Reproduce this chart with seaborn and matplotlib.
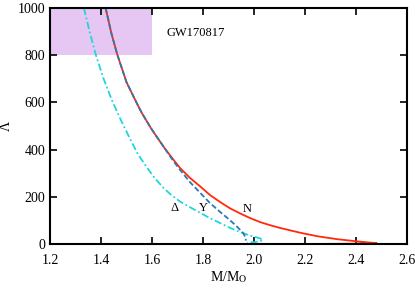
import pandas as pd
import matplotlib.pyplot as plt
import seaborn as sns

# mass (M/Msun) and tidal deformability
n_mass = [1.418, 1.440, 1.463, 1.500, 1.541, 1.560, 1.595, 1.620, 1.650, 1.682, 1.710,
          1.749, 1.788, 1.827, 1.867, 1.905, 1.945, 1.985, 2.024, 2.063, 2.100, 2.150,
          2.190, 2.250, 2.325, 2.400, 2.450, 2.480, 2.420, 2.350, 2.280]
n_lambda = [1000, 895, 805, 685, 595, 555, 492, 452, 405, 360, 322,
            280, 245, 208, 178, 152, 130, 110, 93, 80, 69, 56,
            46, 33, 21, 12, 7, 4, 2, 1.5, 1]

y_mass = [1.418, 1.440, 1.463, 1.500, 1.541, 1.560, 1.595, 1.620, 1.650, 1.682, 1.710,
          1.749, 1.788, 1.827, 1.867, 1.906, 1.935, 1.957, 1.967, 1.968]
y_lambda = [1000, 895, 805, 685, 595, 555, 492, 452, 405, 354, 314,
            262, 218, 174, 136, 101, 72, 47, 28, 15]

d_mass = [1.333, 1.355, 1.380, 1.410, 1.443, 1.480, 1.514, 1.545, 1.579, 1.610, 1.643,
          1.671, 1.710, 1.749, 1.788, 1.827, 1.867, 1.905, 1.945, 1.985, 2.024, 2.035,
          2.020, 1.995, 1.973]
d_lambda = [1000, 900, 800, 700, 608, 520, 445, 380, 326, 280, 240,
            212, 180, 156, 133, 110, 89, 69, 51, 36, 24, 17,
            11, 8, 6]

labels = ["N", "Y", "\u0394"]
label_pos = [(1.973, 150), (1.80, 152), (1.69, 152)]

plt.rcParams['font.family'] = ['Liberation Serif', 'DejaVu Serif']
plt.rcParams['mathtext.fontset'] = 'stix'

fig = plt.figure(figsize=(4.15, 2.92), dpi=100)
ax = fig.add_axes([0.1205, 0.164, 0.8605, 0.809])

# GW170817 constraint box
ax.fill_between([1.2, 1.6], 800, 1000, color='#e6c6f2', linewidth=0, zorder=0)
ax.text(1.655, 893, 'GW170817', fontsize=9, va='center', ha='left')

df_n = pd.DataFrame({'M': n_mass, 'L': n_lambda})
df_y = pd.DataFrame({'M': y_mass, 'L': y_lambda})
df_d = pd.DataFrame({'M': d_mass, 'L': d_lambda})

sns.lineplot(data=df_d, x='M', y='L', sort=False, estimator=None, ax=ax,
             color='#1ed6dc', linewidth=1.3, linestyle=(0, (4, 1.5, 1, 1.5)))
sns.lineplot(data=df_n, x='M', y='L', sort=False, estimator=None, ax=ax,
             color='#ff2a0a', linewidth=1.3)
sns.lineplot(data=df_y, x='M', y='L', sort=False, estimator=None, ax=ax,
             color='#2a78b8', linewidth=1.3, linestyle=(0, (3, 1.5)))

for lab, (px, py) in zip(labels, label_pos):
    ax.text(px, py, lab, fontsize=9, ha='center', va='center')

ax.set_xlim(1.2, 2.6)
ax.set_ylim(0, 1000)
ax.set_xticks([1.2, 1.4, 1.6, 1.8, 2.0, 2.2, 2.4, 2.6])
ax.set_yticks([0, 200, 400, 600, 800, 1000])
ax.tick_params(direction='in', top=True, right=True, length=5, width=1.2, labelsize=10)
ax.tick_params(axis='x', pad=7)
for s in ax.spines.values():
    s.set_linewidth(1.5)
ax.set_xlabel(r'M/M$_\mathrm{O}$', fontsize=10, labelpad=2)
ax.set_ylabel('\u039b', fontsize=10)
ax.yaxis.set_label_coords(-0.105, 0.5)

fig.savefig('out.png', dpi=100)
